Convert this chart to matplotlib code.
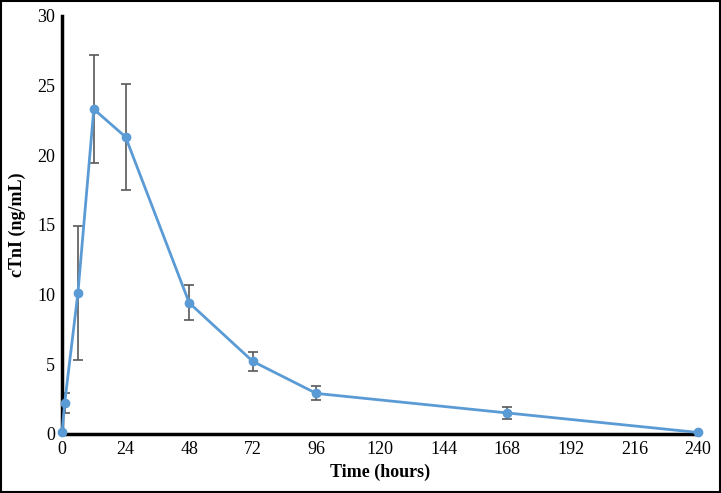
import matplotlib
matplotlib.use("Agg")
import matplotlib.pyplot as plt
from matplotlib.patches import Rectangle

# ── data ──────────────────────────────────────────────
time_h = [0, 1, 6, 12, 24, 48, 72, 96, 168, 240]
ctni   = [0.1, 2.2, 10.1, 23.3, 21.3, 9.4, 5.2, 2.9, 1.5, 0.1]
err    = [0.0, 0.7, 4.8, 3.9, 3.8, 1.25, 0.7, 0.5, 0.45, 0.0]
xticks = list(range(0, 241, 24))
yticks = list(range(0, 31, 5))

plt.rcParams["font.family"] = ["Liberation Serif", "DejaVu Serif"]

fig = plt.figure(figsize=(7.21, 4.93), dpi=100)
ax = fig.add_axes([0.086, 0.120, 0.882, 0.848])

ax.errorbar(time_h, ctni, yerr=err, fmt="none", ecolor="#595959",
            elinewidth=1.2, capsize=3.5, capthick=1.2, zorder=2)
ax.plot(time_h, ctni, color="#5B9BD5", lw=2, marker="o", ms=6,
        zorder=3, clip_on=False)

ax.set_xlim(0, 240)
ax.set_ylim(0, 30)
ax.set_xticks(xticks)
ax.set_yticks(yticks)
ax.tick_params(length=0, labelsize=13, pad=5)
for s in ["top", "right"]:
    ax.spines[s].set_visible(False)
for s in ["left", "bottom"]:
    ax.spines[s].set_linewidth(2.5)
    ax.spines[s].set_color("black")

ax.set_xlabel("Time (hours)", fontsize=13, fontweight="bold", labelpad=4)
ax.set_ylabel("cTnI (ng/mL)", fontsize=13, fontweight="bold", labelpad=8)

# outer frame
fig.patches.append(Rectangle((0.002, 0.002), 0.996, 0.996, transform=fig.transFigure,
                             fill=False, edgecolor="black", lw=1.5))

fig.savefig("out.png", dpi=100)
